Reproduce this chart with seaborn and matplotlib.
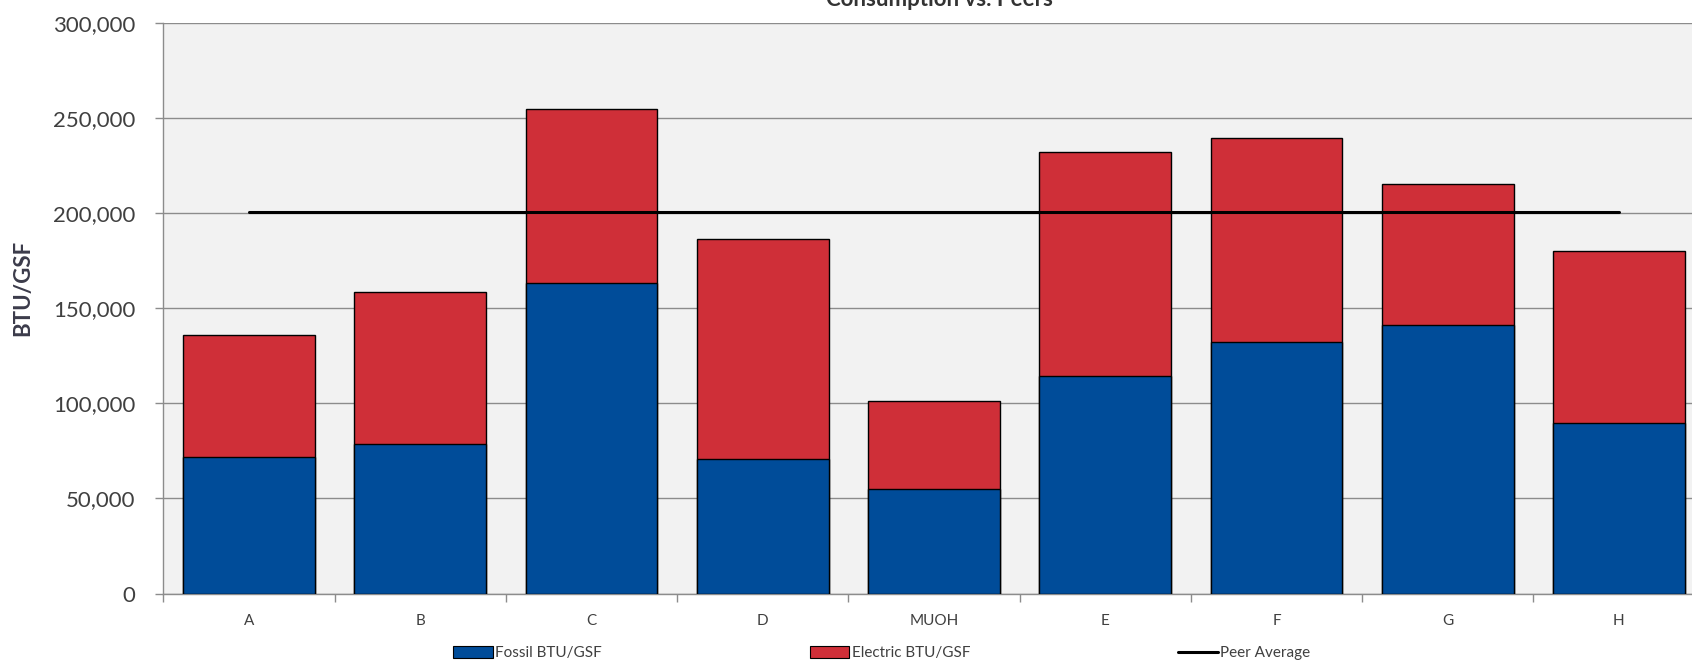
import numpy as np
import pandas as pd
import matplotlib
matplotlib.use("Agg")
import matplotlib.pyplot as plt
from matplotlib.patches import Patch
from matplotlib.lines import Line2D
from matplotlib.ticker import FuncFormatter, MultipleLocator
import seaborn as sns

# Energy use intensity per building (BTU per gross square foot)
categories = ["A", "B", "C", "D", "MUOH", "E", "F", "G", "H"]
fossil_btu = [72000, 78700, 163100, 70500, 55100, 114500, 132300, 141200, 89700]
electric_btu = [64000, 80000, 91900, 115700, 46300, 117600, 107200, 74100, 90300]
peer_average = 200600

y_ticks = [0, 50000, 100000, 150000, 200000, 250000, 300000]

FOSSIL_COLOR = "#004C99"
ELECTRIC_COLOR = "#CF2F38"
TEXT_COLOR = "#404040"

sns.set_theme(style="white")
plt.rcParams["font.family"] = ["Lato", "DejaVu Sans"]

df = pd.DataFrame({
    "building": categories,
    "fossil": fossil_btu,
    "electric": electric_btu,
})
df["total"] = df["fossil"] + df["electric"]
df["peer"] = peer_average

fig = plt.figure(figsize=(16.92, 6.61), dpi=100)
ax = fig.add_axes([0.0966, 0.1021, 0.9108, 0.8631])
ax.set_facecolor("#F2F2F2")

# stacked bars: full height in red, fossil share in blue on top of it
sns.barplot(data=df, x="building", y="total", color=ELECTRIC_COLOR, saturation=1,
            width=0.77, edgecolor="black", linewidth=1.0, ax=ax, zorder=3)
sns.barplot(data=df, x="building", y="fossil", color=FOSSIL_COLOR, saturation=1,
            width=0.77, edgecolor="black", linewidth=1.0, ax=ax, zorder=4)

# peer average across all buildings
sns.lineplot(x=np.arange(len(categories)), y=df["peer"], color="black",
             linewidth=2.2, ax=ax, zorder=5)

ax.set_xlim(-0.5, len(categories) - 0.5)
ax.set_ylim(y_ticks[0], y_ticks[-1])
ax.set_yticks(y_ticks)
ax.yaxis.set_major_formatter(FuncFormatter(lambda v, p: f"{int(v):,}"))
ax.grid(axis="y", color="#8C8C8C", linewidth=1.0, zorder=0)
ax.set_axisbelow(True)

ax.set_xlabel("")
ax.set_ylabel("")
ax.tick_params(axis="y", direction="out", length=6, width=1, color="#8C8C8C",
               labelsize=16, labelcolor=TEXT_COLOR, pad=14, left=True)
ax.tick_params(axis="x", which="major", length=0, labelsize=11,
               labelcolor=TEXT_COLOR, pad=15)
ax.xaxis.set_minor_locator(MultipleLocator(1, offset=0.5))
ax.tick_params(axis="x", which="minor", direction="out", length=6, width=1,
               color="#8C8C8C", bottom=True)

for side in ["top", "right"]:
    ax.spines[side].set_visible(False)
for side in ["left", "bottom"]:
    ax.spines[side].set_color("#8C8C8C")
    ax.spines[side].set_linewidth(1.0)

fig.text(0.0136, 0.565, "BTU/GSF", rotation=90, ha="center", va="center",
         fontsize=16, fontweight="bold", color="#3B3B4A")
fig.text(0.555, 0.991, "Consumption vs. Peers", ha="center", va="baseline",
         fontsize=16, fontweight="bold", color="#333333")

handles = [
    Patch(facecolor=FOSSIL_COLOR, edgecolor="black", linewidth=0.8),
    Patch(facecolor=ELECTRIC_COLOR, edgecolor="black", linewidth=0.8),
    Line2D([0], [0], color="black", linewidth=2.2),
]
labels = ["Fossil BTU/GSF", "Electric BTU/GSF", "Peer Average"]
leg = fig.legend(handles, labels, loc="center", bbox_to_anchor=(0.521, 0.012),
                 ncol=3, frameon=False, fontsize=11, handlelength=2.6,
                 handleheight=0.8, handletextpad=0.15, columnspacing=13.6)
for t in leg.get_texts():
    t.set_color(TEXT_COLOR)

fig.savefig("out.png", dpi=100, facecolor="white")
